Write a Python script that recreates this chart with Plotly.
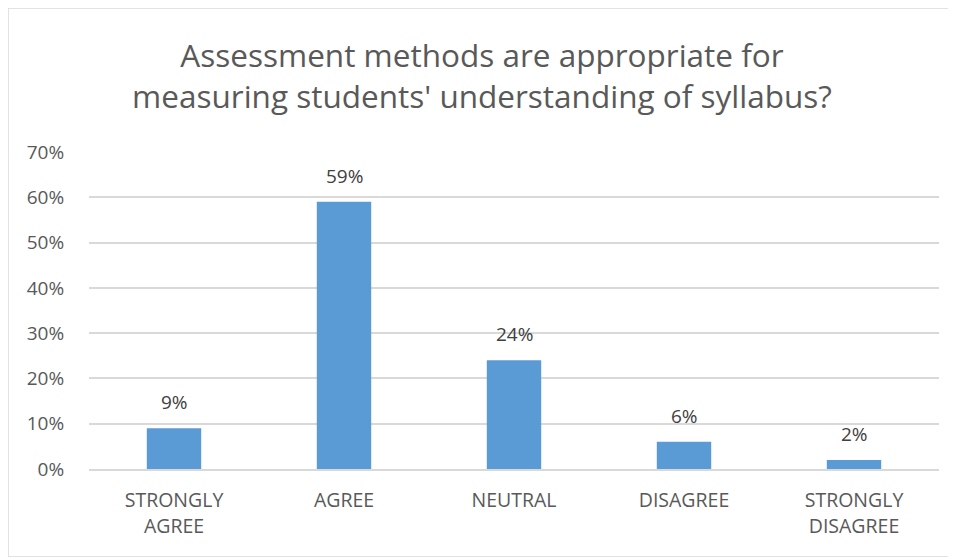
import plotly.graph_objects as go

categories = ["STRONGLY<br>AGREE", "AGREE", "NEUTRAL", "DISAGREE", "STRONGLY<br>DISAGREE"]
shares = [0.09, 0.59, 0.24, 0.06, 0.02]
y_ticks = [0, 0.1, 0.2, 0.3, 0.4, 0.5, 0.6, 0.7]

font_name = "Open Sans, Noto Sans, sans-serif"
grey = "#595959"

fig = go.Figure(
    go.Bar(
        x=categories,
        y=shares,
        marker=dict(color="#5B9BD5", line=dict(width=0)),
        width=0.32,
        cliponaxis=False,
    )
)

# data labels above each bar
for cat, val in zip(categories, shares):
    fig.add_annotation(
        x=cat, y=val, text=f"{val:.0%}",
        showarrow=False, yanchor="bottom", yshift=11,
        font=dict(family=font_name, size=19, color="#404040"),
    )

# outer chart border on the figure edge
fig.add_shape(
    type="rect", xref="paper", yref="paper",
    x0=-81 / 850, x1=1 + 17 / 850, y0=-88 / 317, y1=1 + 144 / 317,
    line=dict(color="#D9D9D9", width=1.5),
)

fig.update_layout(
    width=948,
    height=549,
    margin=dict(l=81, r=17, t=144, b=88),
    paper_bgcolor="white",
    plot_bgcolor="white",
    showlegend=False,
    title=dict(
        text="Assessment methods are appropriate for<br>measuring students' understanding of syllabus?",
        x=0.5,
        xanchor="center",
        y=0.893,
        yanchor="top",
        font=dict(family=font_name, size=31.5, color=grey),
    ),
    xaxis=dict(
        tickfont=dict(family=font_name, size=19.5, color=grey),
        showline=True,
        linecolor="#D9D9D9",
        linewidth=2,
        ticks="outside",
        ticklen=13,
        tickcolor="white",
    ),
    yaxis=dict(
        range=[0, 0.7],
        tickvals=y_ticks,
        tickformat=".0%",
        tickfont=dict(family=font_name, size=19, color=grey),
        gridcolor="#D9D9D9",
        gridwidth=1.5,
        zeroline=False,
        ticks="outside",
        ticklen=20,
        tickcolor="white",
    ),
)

fig.write_html("out.html")
